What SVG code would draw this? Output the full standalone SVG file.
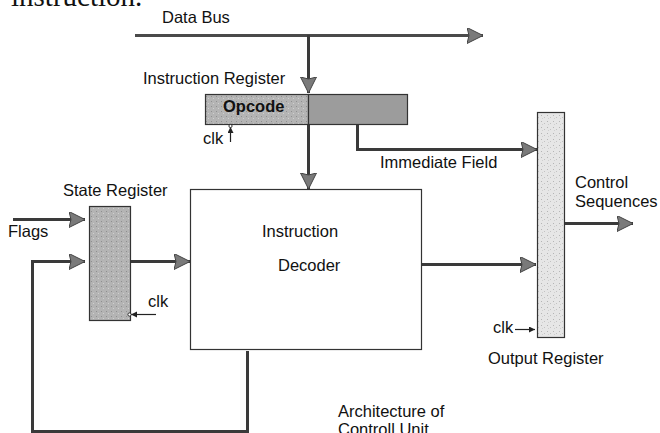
<svg xmlns="http://www.w3.org/2000/svg" width="660" height="433" viewBox="0 0 660 433">
  <style>
    text { font-family: "Liberation Sans", Arial, sans-serif; font-size: 16.5px; fill: #111; }
    .serif { font-family: "Liberation Serif", "Times New Roman", serif; font-size: 29px; }
    .bold { font-weight: bold; }
    .small { font-size: 16px; }
    .wire { fill: none; stroke: #3a3a3a; stroke-width: 3; }
    .bus { fill: none; stroke: #4a4a4a; stroke-width: 3; }
    .clkline { fill: none; stroke: #222; stroke-width: 1.2; }
    .box { stroke: #333; stroke-width: 1.2; }
  </style>
  <defs>
    <marker id="head" markerUnits="userSpaceOnUse" markerWidth="18" markerHeight="18" refX="16" refY="8" orient="auto">
      <path d="M0,0 L16,8 L0,16 L2,8 z" fill="#7a7a7a" stroke="#444" stroke-width="1"/>
    </marker>
    <marker id="tick" markerUnits="userSpaceOnUse" markerWidth="8" markerHeight="8" refX="6" refY="3" orient="auto">
      <path d="M0,0 L6,3 L0,6 z" fill="#222"/>
    </marker>
    <pattern id="grain" width="6" height="6" patternUnits="userSpaceOnUse">
      <rect width="6" height="6" fill="#e6e6e6"/>
      <rect x="1" y="1" width="1" height="1" fill="#b5b5b5"/>
      <rect x="4" y="3" width="1" height="1" fill="#c2c2c2"/>
      <rect x="2" y="4" width="1" height="1" fill="#cfcfcf"/>
    </pattern>
    <pattern id="grainDark" width="5" height="5" patternUnits="userSpaceOnUse">
      <rect width="5" height="5" fill="#b4b4b4"/>
      <rect x="1" y="1" width="1" height="1" fill="#8f8f8f"/>
      <rect x="3" y="3" width="1" height="1" fill="#d0d0d0"/>
    </pattern>
  </defs>

  <rect width="660" height="433" fill="#fff"/>

  <!-- page heading, cut at the top edge -->
  <text class="serif" x="11" y="6">instruction.</text>

  <!-- Instruction register: opcode half and immediate half -->
  <g id="instruction-register">
    <rect class="box" x="205.5" y="94.5" width="103" height="30" fill="url(#grainDark)"/>
    <rect class="box" x="308.5" y="94.5" width="99" height="30" fill="#9c9c9c"/>
    <text class="bold" x="223" y="112">Opcode</text>
    <text x="143" y="84">Instruction Register</text>
  </g>

  <!-- Instruction decoder -->
  <g id="instruction-decoder">
    <rect class="box" x="190.5" y="189.5" width="231" height="160" fill="#fff"/>
    <text x="262" y="237">Instruction</text>
    <text x="278" y="271">Decoder</text>
  </g>

  <!-- State register -->
  <g id="state-register">
    <rect class="box" x="89.5" y="206.5" width="41" height="114" fill="url(#grainDark)"/>
    <text x="63" y="196">State Register</text>
  </g>

  <!-- Output register -->
  <g id="output-register">
    <rect class="box" x="537.5" y="112.5" width="27" height="225" fill="url(#grain)"/>
    <text x="488" y="364">Output Register</text>
  </g>

  <!-- Signal labels -->
  <g id="labels">
    <text x="162" y="23">Data Bus</text>
    <text x="380" y="168">Immediate Field</text>
    <text x="575" y="188">Control</text>
    <text x="575" y="207">Sequences</text>
    <text x="8" y="237">Flags</text>
    <text x="203" y="144">clk</text>
    <text x="148" y="307">clk</text>
    <text x="493" y="333">clk</text>
    <text x="338" y="417">Architecture of</text>
    <text x="338" y="435">Controll Unit</text>
  </g>

  <!-- Connectors -->
  <g id="connectors">
    <path class="bus" d="M135,35.5 H483" marker-end="url(#head)"/>
    <path class="wire" d="M308.5,35 V93" marker-end="url(#head)"/>
    <path class="wire" d="M308.5,125 V189" marker-end="url(#head)"/>
    <path class="wire" d="M357.5,125 V149.5 H537" marker-end="url(#head)"/>
    <path class="wire" d="M565,223.5 H633" marker-end="url(#head)"/>
    <path class="wire" d="M422,264.5 H536" marker-end="url(#head)"/>
    <path class="wire" d="M13,219.5 H85" marker-end="url(#head)"/>
    <path class="wire" d="M247.5,351 V431.5 H32.5 V261.5 H85" marker-end="url(#head)"/>
    <path class="wire" d="M131,261.5 H190" marker-end="url(#head)"/>
    <!-- clock inputs -->
    <path class="clkline" d="M230.5,142 V127" marker-end="url(#tick)"/>
    <circle cx="230.5" cy="126" r="1.6" fill="#fff" stroke="#222" stroke-width="0.9"/>
    <path class="clkline" d="M156,314.5 H131" marker-end="url(#tick)"/>
    <circle cx="129.5" cy="314.5" r="1.6" fill="#fff" stroke="#222" stroke-width="0.9"/>
    <path class="clkline" d="M515,329.5 H535" marker-end="url(#tick)"/>
  </g>
</svg>
